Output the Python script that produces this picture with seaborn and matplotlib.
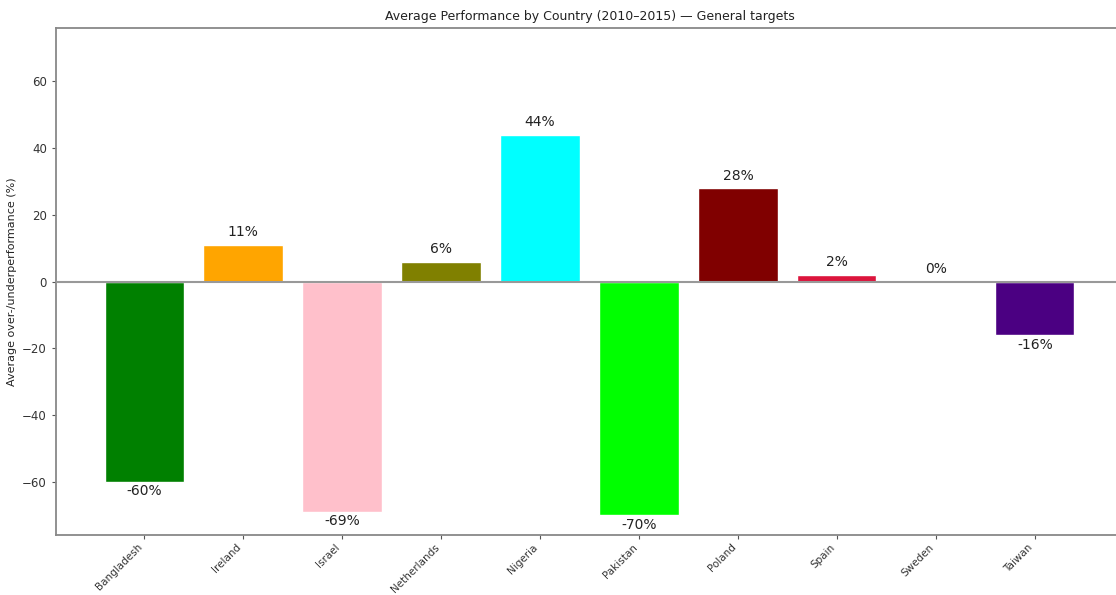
import matplotlib
matplotlib.use("Agg")
import matplotlib.pyplot as plt
import seaborn as sns
import pandas as pd

countries = ["Bangladesh", "Ireland", "Israel", "Netherlands", "Nigeria",
             "Pakistan", "Poland", "Spain", "Sweden", "Taiwan"]
values = [-60, 11, -69, 6, 44, -70, 28, 2, 0, -16]
colors = ["green", "orange", "pink", "olive", "cyan",
          "lime", "maroon", "crimson", "navy", "indigo"]

df = pd.DataFrame({"country": countries, "value": values})

sns.set_style("white")
plt.rcParams["font.family"] = ["DejaVu Sans"]

fig = plt.figure(figsize=(11.16, 5.95), dpi=100)
ax = fig.add_axes([0.0502, 0.1008, 0.956, 0.852])

sns.barplot(data=df, x="country", y="value", hue="country",
            palette=colors, saturation=1, width=0.8, legend=False, ax=ax)

ax.axhline(0, color="#999999", linewidth=1.5, zorder=3)
ax.set_xlim(-0.89, 9.89)
ax.set_ylim(-76, 76)
ax.set_yticks([-60, -40, -20, 0, 20, 40, 60])
ax.set_yticklabels(["\u221260", "\u221240", "\u221220", "0", "20", "40", "60"])

for i, v in enumerate(values):
    if v >= 0:
        ax.annotate(f"{v:.0f}%", (i, v), xytext=(0, 4), textcoords="offset points",
                    ha="center", va="bottom", fontsize=10, color="#222222")
    else:
        ax.annotate(f"{v:.0f}%", (i, v), xytext=(0, -2), textcoords="offset points",
                    ha="center", va="top", fontsize=10, color="#222222")

ax.set_title("Average Performance by Country (2010\u20132015) \u2014 General targets",
             fontsize=9, color="#222222")
ax.set_xlabel("")
ax.set_ylabel("Average over-/underperformance (%)", fontsize=8, color="#222222",
              labelpad=4)
plt.setp(ax.get_xticklabels(), rotation=45, ha="right", fontsize=7.5, color="#333333")
plt.setp(ax.get_yticklabels(), fontsize=8.5, color="#333333")
ax.tick_params(axis="both", length=3, width=0.8, color="#555555", bottom=True, left=True)
ax.tick_params(axis="x", pad=2)
for s in ax.spines.values():
    s.set_color("#888888")
    s.set_linewidth(1.3)

fig.savefig("out.png", dpi=100)
